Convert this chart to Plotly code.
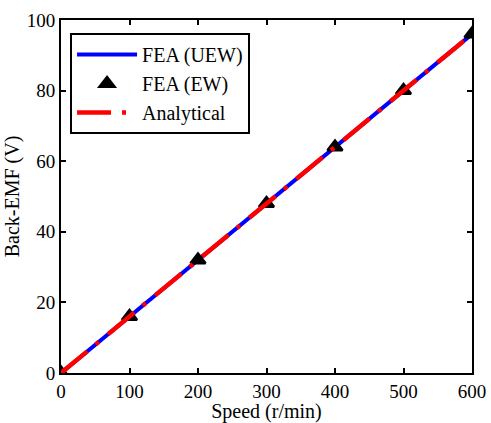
import plotly.graph_objects as go

speed = [0, 100, 200, 300, 400, 500, 600]
emf_uew = [0, 16, 32, 48, 64, 80, 96]
emf_ew = [0, 16, 32, 48, 64, 80, 96]
emf_analytical = [0, 16, 32, 48, 64, 80, 96]

x_ticks = [0, 100, 200, 300, 400, 500, 600]
y_ticks = [0, 20, 40, 60, 80, 100]

font_family = "Liberation Serif"

fig = go.Figure()
fig.add_trace(go.Scatter(
    x=speed, y=emf_uew, mode="lines", name="FEA (UEW)",
    line=dict(color="#0000ff", width=4),
))
fig.add_trace(go.Scatter(
    x=speed, y=emf_ew, mode="markers", name="FEA (EW)",
    marker=dict(symbol="triangle-up", size=13, color="black",
                line=dict(color="black", width=2.5)),
))
fig.add_trace(go.Scatter(
    x=speed, y=emf_analytical, mode="lines", name="Analytical",
    line=dict(color="#ff0000", width=4.5, dash="34px,11px,4px,12px"),
))

axis_common = dict(
    showline=True, linecolor="black", linewidth=2, mirror="ticks",
    ticks="inside", ticklen=5, tickwidth=1.5, tickcolor="black",
    showgrid=False, zeroline=False, automargin=False,
    tickfont=dict(family=font_family, size=19, color="black"),
)

fig.update_layout(
    width=491, height=423,
    margin=dict(l=61, r=19, t=20, b=50),
    plot_bgcolor="white", paper_bgcolor="white",
    font=dict(family=font_family, size=20, color="black"),
    xaxis=dict(range=[0, 600], tickvals=x_ticks,
               title=dict(text="Speed (r/min)", standoff=3,
                          font=dict(family=font_family, size=20)),
               **axis_common),
    yaxis=dict(range=[0, 100], tickvals=y_ticks,
               title=dict(text="Back-EMF (V)", standoff=2,
                          font=dict(family=font_family, size=20)),
               **axis_common),
    legend=dict(x=0.022, y=0.963, xanchor="left", yanchor="top",
                bordercolor="black", borderwidth=2, bgcolor="white",
                font=dict(family=font_family, size=20),
                tracegroupgap=0, itemwidth=60),
    showlegend=True,
)

fig.write_html("out.html")
